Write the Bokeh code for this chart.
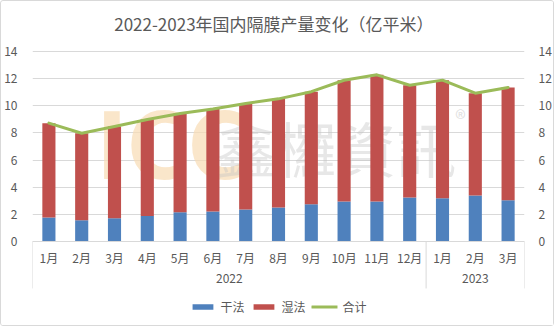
from bokeh.plotting import figure
from bokeh.models import (Range1d, FixedTicker, LinearAxis, Legend, LegendItem,
                          Label, Span, ColumnDataSource)
from bokeh.embed import file_html
from bokeh.resources import INLINE

# ---------------- data ----------------
title_text = "2022-2023年国内隔膜产量变化（亿平米）"
months = ["1月", "2月", "3月", "4月", "5月", "6月", "7月", "8月", "9月", "10月", "11月", "12月",
          "1月", "2月", "3月"]
years = ["2022", "2023"]
year_counts = [12, 3]
dry = [1.77, 1.57, 1.72, 1.87, 2.16, 2.21, 2.36, 2.50, 2.75, 2.95, 2.95, 3.24, 3.19, 3.39, 3.04]
wet = [6.95, 6.41, 6.75, 7.12, 7.27, 7.56, 7.81, 8.01, 8.29, 8.93, 9.33, 8.27, 8.70, 7.54, 8.31]
total = [8.72, 7.98, 8.47, 8.99, 9.43, 9.77, 10.17, 10.51, 11.04, 11.88, 12.28, 11.51, 11.89, 10.93, 11.35]
y_ticks = [0, 2, 4, 6, 8, 10, 12, 14]
series_names = ["干法", "湿法", "合计"]

# ---------------- style ----------------
C_DRY = "#4f81bd"
C_WET = "#c0504d"
C_TOT = "#9bbb59"
GRID = "#d9d9d9"
TXT = "#595959"
CJK = "Noto Sans CJK SC"

n = len(months)
xs = [i + 0.5 for i in range(n)]

W, H = 554, 326
p = figure(width=W, height=H, output_backend="svg", toolbar_location=None,
           x_range=Range1d(0, n), y_range=Range1d(-6.19, 17.684),
           min_border_left=30, min_border_right=31, min_border_top=0, min_border_bottom=2,
           outline_line_color=None, background_fill_color="white",
           border_fill_color="white")
p.styles = {"border": "1px solid #d9d9d9", "border-radius": "3px"}

p.xaxis.visible = False
p.xgrid.visible = False
p.ygrid.ticker = FixedTicker(ticks=y_ticks)
p.ygrid.grid_line_color = GRID
p.ygrid.grid_line_width = 1

p.yaxis[0].ticker = FixedTicker(ticks=y_ticks)
rax = LinearAxis(ticker=FixedTicker(ticks=y_ticks))
p.add_layout(rax, "right")
for ax, st in [(p.yaxis[0], 9), (rax, 8)]:
    ax.axis_line_color = None
    ax.major_tick_line_color = None
    ax.minor_tick_line_color = None
    ax.major_label_standoff = st
    ax.major_label_text_font = CJK
    ax.major_label_text_font_size = "12px"
    ax.major_label_text_color = TXT

# watermark (behind the data)
p.add_layout(Label(x=1.95, y=6.9, text="ICC", text_font="DejaVu Sans Condensed",
                   text_font_style="bold", text_font_size="92px", text_color="#f8dcb4",
                   text_alpha=0.7, text_align="left", text_baseline="middle", level="underlay"))
p.add_layout(Label(x=5.6, y=7.0, text="鑫欏資訊", text_font=CJK,
                   text_font_size="60px", text_color="#c4c4c4", text_alpha=0.4,
                   text_align="left", text_baseline="middle", level="underlay"))
p.add_layout(Label(x=13.05, y=9.2, text="®", text_font=CJK,
                   text_font_size="22px", text_color="#c4c4c4", text_alpha=0.5,
                   text_align="center", text_baseline="middle", level="underlay"))

# bars
src = ColumnDataSource(dict(x=xs, dry=dry, wet=wet, total=total))
rs = p.vbar_stack(["dry", "wet"], x="x", width=0.4, source=src,
                  color=[C_DRY, C_WET], line_color=None)
lr = p.line(x="x", y="total", source=src, line_color=C_TOT, line_width=3,
            line_join="round", line_cap="round")

# category axis (drawn manually: baseline, separators, month and year labels)
p.add_layout(Span(location=0, dimension="width", line_color=GRID, line_width=1))
bounds = [0]
for c in year_counts:
    bounds.append(bounds[-1] + c)
p.segment(x0=bounds, x1=bounds, y0=[0] * len(bounds), y1=[-3.46] * len(bounds),
          line_color=GRID, line_width=1)
p.text(x=xs, y=[-1.16] * n, text=months, text_font={"value": CJK}, text_font_size="12px",
       text_color=TXT, text_align="center", text_baseline="middle")
ycent = [(bounds[i] + bounds[i + 1]) / 2 for i in range(len(years))]
p.text(x=ycent, y=[-2.70] * len(years), text=years, text_font={"value": CJK},
       text_font_size="12px", text_color=TXT, text_align="center", text_baseline="middle")

# title
p.add_layout(Label(x=7.36, y=16.06, text=title_text, text_font=CJK, text_font_size="17px",
                   text_color=TXT, text_align="center", text_baseline="middle"))

# legend
legend = Legend(items=[LegendItem(label=series_names[0], renderers=[rs[0]]),
                       LegendItem(label=series_names[1], renderers=[rs[1]]),
                       LegendItem(label=series_names[2], renderers=[lr])],
                location="bottom_center", orientation="horizontal",
                glyph_width=26, glyph_height=7, label_height=14, label_standoff=5,
                spacing=6, padding=0, margin=10, border_line_color=None,
                background_fill_alpha=0, label_text_font=CJK, label_text_font_size="12px",
                label_text_color=TXT)
p.add_layout(legend)

open("out.html", "w").write(file_html(p, INLINE))
